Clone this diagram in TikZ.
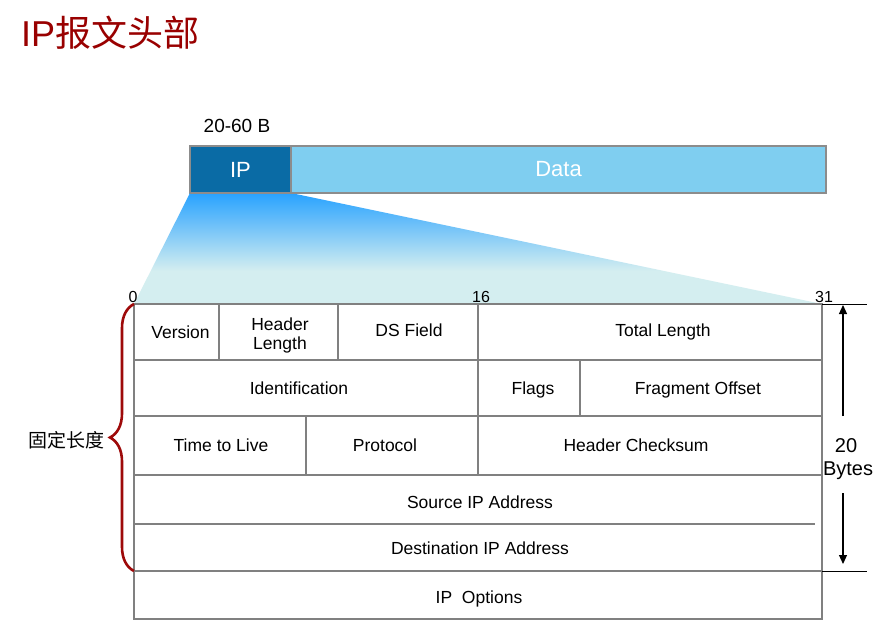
\documentclass[tikz,border=0pt]{standalone}
\usepackage{fontspec}
\setmainfont{Liberation Sans}
\newfontfamily\cjk{Noto Sans CJK SC}
\usetikzlibrary{decorations.pathreplacing,arrows.meta,backgrounds}
\definecolor{titlered}{HTML}{990000}
\definecolor{ipblue}{HTML}{0A6BA5}
\definecolor{datablue}{HTML}{7FCEF0}
\definecolor{boxgray}{HTML}{8C8C8C}
\definecolor{linegray}{HTML}{808080}
\definecolor{bracered}{HTML}{9E0A0A}
\definecolor{fantop}{HTML}{28A2FF}
\definecolor{fanlow}{HTML}{D4EEF0}
\pgfdeclareverticalshading{fan}{100bp}{color(0bp)=(fanlow); color(25bp)=(fanlow); color(40bp)=(fanlow); color(75bp)=(fantop); color(100bp)=(fantop)}
\newcommand{\fs}[1]{\fontsize{#1}{#1}\selectfont}
\begin{document}
\begin{tikzpicture}[x=1pt,y=-1pt,
  every node/.style={inner sep=0pt,outer sep=0pt},
  cell/.style={draw=linegray,line width=1.3pt,anchor=north west},
  txt/.style={anchor=base,font=\fs{17.5}},
  bar/.style={draw=boxgray,line width=2.5pt,anchor=north west,minimum height=47pt,text=white,font=\fs{22}},
  bitlabel/.style={anchor=base,font=\fs{16}},
  tick/.style={black,line width=1pt},
  dimarrow/.style={black,line width=1.2pt,-{Triangle[length=9pt,width=8pt]}}
]
\useasboundingbox (0,0) rectangle (894,629);
\begin{scope}[on background layer]
\fill[white] (0,0) rectangle (894,629);
\end{scope}

% title
\node[anchor=west,text=titlered,font=\fs{36}] (title) at (21,33) {IP{\cjk 报文头部}};

% top bar
\node[font=\fs{19}] (size) at (237,126) {20-60 B};
\node[bar,fill=ipblue,minimum width=101pt] (ip) at (190,146) {IP};
\node[bar,fill=datablue,minimum width=535pt] (data) at (291,146) {Data};

% table corners
\coordinate (tl) at (134,304);
\coordinate (tr) at (822,304);
\coordinate (bl) at (134,571);
\coordinate (br) at (822,571);

\shade[shading=fan] (ip.south west) -- (ip.south east) -- (tr) -- (tl) -- cycle;
\draw[boxgray,line width=2.5pt] (ip.south west) -- (data.south east);

% bit labels
\node[bitlabel] (b0) at (133,302) {0};
\node[bitlabel] (b16) at (481,302) {16};
\node[bitlabel] (b31) at (824,302) {31};

% row 1
\node[cell,minimum width=85pt,minimum height=56pt] (ver) at (134,304) {};
\node[cell,minimum width=119pt,minimum height=56pt] (hl) at (219,304) {};
\node[cell,minimum width=140pt,minimum height=56pt] (ds) at (338,304) {};
\node[cell,minimum width=344pt,minimum height=56pt] (tlen) at (478,304) {};
% row 2
\node[cell,minimum width=344pt,minimum height=56pt] (id) at (134,360) {};
\node[cell,minimum width=102pt,minimum height=56pt] (flags) at (478,360) {};
\node[cell,minimum width=242pt,minimum height=56pt] (fo) at (580,360) {};
% row 3
\node[cell,minimum width=172pt,minimum height=59pt] (ttl) at (134,416) {};
\node[cell,minimum width=172pt,minimum height=59pt] (proto) at (306,416) {};
\node[cell,minimum width=344pt,minimum height=59pt] (hc) at (478,416) {};
% rows 4-5
\node[anchor=north west,minimum width=688pt,minimum height=49pt] (src) at (134,475) {};
\node[anchor=north west,minimum width=688pt,minimum height=47pt] (dst) at (134,524) {};
\draw[linegray,line width=1.3pt] (src.north west) rectangle (dst.south east);
\draw[linegray,line width=1.3pt] (dst.north west) -- ([xshift=-7pt]dst.north east);
% row 6
\node[cell,minimum width=688pt,minimum height=48pt] (opt) at (134,571) {};

% field texts
\node[txt] (verT) at (180.5,338) {Version};
\node[txt] (hlT) at (280,330) {Header};
\node[txt] (hlT2) at (280,349) {Length};
\node[txt] (dsT) at (409,336) {DS Field};
\node[txt] (tlenT) at (663,336) {Total Length};
\node[txt] (idT) at (299,394) {Identification};
\node[txt] (flagsT) at (533,394) {Flags};
\node[txt] (foT) at (698,394) {Fragment Offset};
\node[txt] (ttlT) at (221,451) {Time to Live};
\node[txt] (protoT) at (385,451) {Protocol};
\node[txt] (hcT) at (636,451) {Header Checksum};
\node[txt] (srcT) at (480,508) {Source IP Address};
\node[txt] (dstT) at (480,554) {Destination IP Address};
\node[txt] (optT) at (479,603) {IP\ \ Options};

% size dimension
\draw[tick] (tr) -- ++(45,0) coordinate (trx);
\draw[tick] (br) -- ++(45,0) coordinate (brx);
\coordinate (upS) at (843,416);
\coordinate (upE) at (843,305);
\coordinate (dnS) at (843,493);
\coordinate (dnE) at (843,564);
\draw[dimarrow] (upS) -- (upE);
\draw[dimarrow] (dnS) -- (dnE);
\node[anchor=base,font=\fs{20}] (n20) at (846,452) {20};
\node[anchor=base,font=\fs{20}] (bytes) at (848,475) {Bytes};

% brace
\draw[bracered,line width=2.6pt,decorate,decoration={brace,amplitude=24pt}] (bl) -- (tl);
\node[font=\cjk\fs{19}] (fixed) at (66,440) {固定长度};
\end{tikzpicture}
\end{document}
